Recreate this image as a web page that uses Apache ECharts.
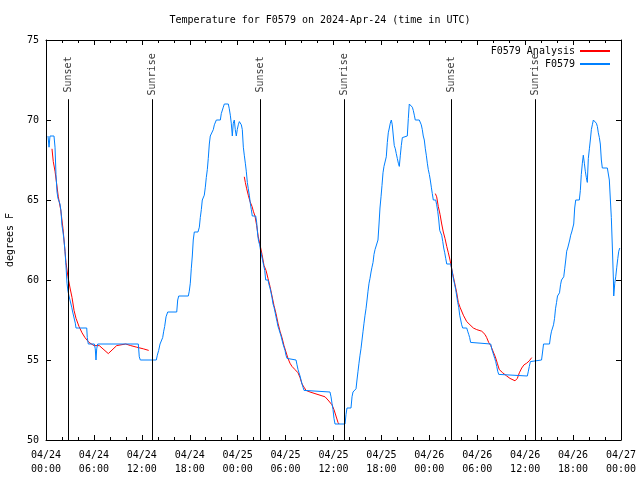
<!DOCTYPE html>
<html><head><meta charset="utf-8">
<script src="https://cdn.jsdelivr.net/npm/echarts@6/dist/echarts.min.js"></script>
<style>html,body{margin:0;padding:0;background:#fff}#c{width:640px;height:480px}</style>
</head><body><div id="c"></div>
<script>
// hours since 2024-04-24 00:00 UTC
const dateLabels = ['04/24','04/25','04/26','04/27'];
const yTicks = [50,55,60,65,70,75];

const obsHours = [0.25,0.38,0.50,1.00,1.13,1.25,1.38,1.50,1.75,1.88,2.00,2.13,2.25,2.38,2.50,2.63,2.75,2.88,3.13,3.22,3.34,3.54,3.67,3.76,5.10,5.17,5.30,6.05,6.17,6.26,6.35,6.47,11.56,11.68,11.81,13.81,13.94,14.11,14.28,14.49,14.61,14.74,14.86,15.03,15.24,16.37,16.49,16.62,17.82,17.94,18.07,18.19,18.32,18.44,18.57,19.03,19.20,19.32,19.45,19.57,19.82,19.95,20.07,20.20,20.32,20.45,20.57,20.82,20.95,21.08,21.33,21.83,21.95,22.20,22.33,22.83,22.95,23.08,23.20,23.33,23.45,23.58,23.70,23.83,23.95,24.08,24.21,24.33,24.46,24.58,24.71,24.83,24.96,25.08,25.21,25.33,25.46,25.58,25.71,25.83,26.26,26.38,26.51,26.63,26.76,26.88,27.01,27.14,27.26,27.39,27.51,27.80,27.93,28.05,28.18,28.30,28.43,28.55,28.68,28.80,28.93,29.05,29.18,29.30,29.43,29.55,29.68,29.80,29.93,30.05,30.18,30.30,31.31,31.43,31.56,31.68,31.81,31.93,32.06,32.18,32.31,32.56,35.56,35.69,35.81,35.94,36.06,36.19,37.44,37.57,37.69,38.19,38.32,38.44,38.69,38.82,38.94,39.07,39.19,39.32,39.44,39.57,39.70,39.82,39.95,40.07,40.20,40.32,40.45,40.57,40.70,40.82,40.95,41.07,41.20,41.45,41.57,41.70,41.82,41.95,42.07,42.20,42.32,42.49,42.61,42.74,42.86,42.99,43.11,43.24,43.36,43.49,43.61,43.74,43.86,43.99,44.12,44.24,44.37,44.49,44.62,44.74,45.24,45.37,45.49,45.74,45.87,45.99,46.12,46.24,46.74,46.87,46.99,47.12,47.24,47.37,47.50,47.62,47.75,47.87,48.00,48.12,48.25,48.37,48.50,48.80,48.92,49.05,49.18,49.30,49.43,49.55,49.68,49.80,49.93,50.05,50.18,50.68,50.80,50.93,51.05,51.18,51.30,51.43,51.55,51.68,51.80,51.93,52.05,52.18,52.68,52.80,52.93,53.05,53.17,53.30,55.69,55.81,55.94,56.06,56.19,56.31,56.44,56.56,56.69,56.76,60.27,60.40,60.52,60.65,60.77,62.05,62.18,62.30,63.05,63.18,63.30,63.43,63.55,63.68,63.80,63.93,64.05,64.30,64.43,64.55,64.70,64.83,64.95,65.08,65.20,65.33,65.45,65.58,65.70,65.83,65.99,66.08,66.20,66.33,66.78,66.91,67.03,67.16,67.28,67.41,67.53,67.66,67.78,67.91,68.04,68.16,68.29,68.41,68.54,68.78,68.91,69.04,69.16,69.29,69.41,69.54,69.66,70.29,70.42,70.54,70.67,70.79,70.92,71.05,71.09,71.22,71.34,71.47,71.60,71.72,71.85];
const obsTemps = [69.0,68.3,69.0,69.0,68.3,66.6,65.5,65.1,64.75,64.3,63.4,63.0,62.5,61.8,60.9,59.8,59.3,59.0,59.0,58.3,58.0,58.0,57.3,57.0,57.0,56.4,56.0,56.0,55.7,55.0,55.7,56.0,56.0,55.2,55.0,55.0,55.3,55.6,56.0,56.0,56.4,56.8,57.1,57.7,58.0,58.0,58.75,59.0,59.0,59.3,59.8,60.7,61.5,62.5,63.0,63.0,63.3,63.9,64.4,65.0,65.3,65.8,66.4,66.9,67.6,68.5,69.0,69.0,69.4,69.7,70.0,70.0,70.4,70.8,71.0,71.0,70.7,70.3,69.8,69.0,69.8,70.0,69.4,69.0,69.4,69.7,69.9,70.0,69.7,69.4,68.3,67.8,67.3,66.8,66.1,65.7,65.3,64.8,64.4,64.0,64.0,63.6,62.8,62.4,62.2,61.8,61.5,61.2,60.9,60.6,60.0,60.0,59.7,59.5,59.2,58.9,58.5,58.3,58.0,57.7,57.4,57.1,56.9,56.8,56.5,56.4,56.0,55.8,55.6,55.3,55.1,55.0,55.0,54.7,54.4,54.2,54.0,53.75,53.5,53.3,53.1,53.0,53.0,52.7,52.3,51.9,51.35,51.0,51.0,51.6,52.0,52.0,52.7,53.0,53.0,53.2,53.75,54.3,54.8,55.3,55.7,56.25,56.8,57.3,57.8,58.2,58.75,59.3,59.8,60.1,60.5,60.8,61.1,61.6,61.9,61.9,62.5,63.5,64.5,65.2,65.9,66.7,67.1,67.1,67.7,68.6,69.2,69.5,69.8,70.0,69.7,69.0,68.4,68.2,67.9,67.6,67.3,67.1,67.8,68.4,68.9,69.0,69.0,70.1,71.0,71.0,70.8,70.6,70.3,70.0,70.0,69.9,69.7,69.4,69.0,68.75,68.2,67.8,67.3,66.9,66.6,66.25,65.8,65.4,65.0,65.0,64.7,64.3,63.75,63.1,63.0,62.8,62.4,62.0,61.7,61.35,61.0,61.0,60.7,60.3,60.0,59.7,59.4,59.0,58.6,58.3,57.8,57.5,57.2,57.0,57.0,56.8,56.6,56.4,56.1,56.0,56.0,55.7,55.5,55.3,55.1,54.9,54.6,54.3,54.1,54.0,54.0,54.3,54.6,54.9,55.0,55.0,55.5,56.0,56.0,56.5,56.8,57.0,57.2,57.6,58.2,58.6,59.0,59.2,59.7,60.0,60.0,60.2,60.7,61.25,61.8,62.0,62.1,62.5,62.8,63.0,63.0,63.5,64.5,65.0,65.0,65.6,66.6,67.3,67.8,67.3,66.8,66.4,66.1,67.6,68.2,68.75,69.4,69.7,70.0,70.0,69.8,69.6,69.2,68.9,68.5,67.5,67.0,67.0,66.9,66.25,65.0,63.9,62.0,60.0,59.0,59.8,60.2,60.8,61.35,61.8,62.0];

const anaHoursA = [0.75,0.91,1.13,1.34,1.54,1.84,2.13,2.38,2.50,2.75,3.01,3.26,3.51,3.76,4.13,4.51,4.88,5.38,6.01,6.67,7.80,8.85,9.98,10.61,11.36,12.18,12.86];
const anaTempsA = [68.2,67.4,66.8,66.0,65.2,64.4,63.2,61.8,61.1,60.2,59.5,58.9,58.1,57.6,57.1,56.7,56.4,56.1,55.9,55.9,55.4,55.9,56.0,55.9,55.8,55.7,55.6];
const anaHoursB = [24.83,24.96,25.13,25.33,25.55,25.80,25.96,26.17,26.38,26.58,26.80,27.05,27.30,27.55,27.80,28.05,28.30,28.55,28.80,29.05,29.30,29.55,29.80,30.05,30.30,30.55,30.80,31.18,31.56,31.81,32.06,32.31,32.56,33.06,33.68,34.31,34.94,35.31,35.56,35.81,36.06,36.31,36.56,36.69];
const anaTempsB = [66.45,66.1,65.7,65.3,64.9,64.6,64.3,64.0,63.4,62.7,62.2,61.6,60.9,60.6,60.1,59.6,59.0,58.4,57.9,57.3,56.8,56.4,55.9,55.5,55.1,54.8,54.6,54.4,54.2,53.9,53.5,53.3,53.1,53.0,52.9,52.8,52.7,52.5,52.4,52.2,51.9,51.5,51.1,51.0];
const anaHoursC = [48.75,48.92,49.12,49.34,49.55,49.75,49.96,50.18,50.38,50.59,50.80,51.01,51.22,51.43,51.63,51.84,52.26,52.68,53.09,53.51,53.93,54.56,54.97,55.18,55.43,55.69,56.01,56.26,56.51,56.76,57.19,57.69,58.10,58.73,59.02,59.27,59.57,59.86,60.19,60.52,60.82];
const anaTempsC = [65.4,65.2,64.6,64.1,63.5,63.0,62.6,62.1,61.7,61.25,60.7,60.2,59.7,59.2,58.6,58.3,57.8,57.4,57.2,57.0,56.9,56.8,56.6,56.4,56.1,55.9,55.5,55.2,54.8,54.4,54.2,54.0,53.85,53.7,53.85,54.2,54.5,54.7,54.8,54.95,55.15];

const sunHours = [2.80,13.30,26.80,37.35,50.75,61.27];
const sunNames = ['Sunset','Sunrise','Sunset','Sunrise','Sunset','Sunrise'];
const sunLineTop = 71.3;
const sunLabelAt = 72.85;

const zip = (a,b) => a.map((v,i)=>[v,b[i]]);
const FONT = 'DejaVu Sans Mono';
const chart = echarts.init(document.getElementById('c'), null, {renderer:'canvas'});
const pad = n => (n<10?'0':'')+n;
const axisCommon = {
  type:'value', min:0, max:72, interval:6,
  axisLine:{show:true, onZero:false, lineStyle:{color:'#000', width:1}},
  axisTick:{show:true, inside:true, length:5, lineStyle:{color:'#000'}},
  minorTick:{show:true, splitNumber:3, length:3, lineStyle:{color:'#000'}},
  splitLine:{show:false}
};
const yCommon = {
  type:'value', min:50, max:75, interval:5,
  axisLine:{show:true, onZero:false, lineStyle:{color:'#000', width:1}},
  axisTick:{show:true, inside:true, length:5, lineStyle:{color:'#000'}},
  splitLine:{show:false}
};
const lineSeries = (name, data, color) => ({
  type:'line', name, data, showSymbol:false, symbol:'none', smooth:false,
  lineStyle:{color, width:1}, itemStyle:{color}, xAxisIndex:0, yAxisIndex:0,
  silent:true, z:3
});
chart.setOption({
  animation:false,
  backgroundColor:'#fff',
  title:{text:'Temperature for F0579 on 2024-Apr-24 (time in UTC)', left:'center', top:10,
    textStyle:{fontFamily:FONT, fontSize:10, fontWeight:'normal', color:'#000'}},
  grid:{left:46, top:40, right:19, bottom:40, containLabel:false, outerBoundsMode:'none'},
  legend:{orient:'vertical', right:30, top:45, align:'right', itemWidth:30, itemHeight:2, itemGap:1,
    padding:0, icon:'rect', data:['F0579 Analysis','F0579'],
    textStyle:{fontFamily:FONT, fontSize:10, color:'#000', lineHeight:12, padding:[0,0,0,0]}},
  xAxis:[
    Object.assign({}, axisCommon, {position:'bottom',
      axisLabel:{show:true, margin:8, fontFamily:FONT, fontSize:10, color:'#000', lineHeight:14,
        formatter:v => dateLabels[Math.floor(v/24)] + '\n' + pad(v%24) + ':00'}}),
    Object.assign({}, axisCommon, {position:'top', axisLabel:{show:false}})
  ],
  yAxis:[
    Object.assign({}, yCommon, {position:'left', name:'degrees F', nameLocation:'middle', nameGap:31,
      nameRotate:90, nameTextStyle:{fontFamily:FONT, fontSize:10, color:'#000'},
      axisLabel:{show:true, margin:7, fontFamily:FONT, fontSize:10, color:'#000'}}),
    Object.assign({}, yCommon, {position:'right', axisLabel:{show:false}})
  ],
  series:[
    {type:'scatter', name:'sun', data: sunHours.map((h,i)=>({value:[h,sunLabelAt], name:sunNames[i]})),
      symbolSize:0, silent:true, z:2,
      label:{show:true, position:'inside', rotate:90, formatter:p=>p.name, fontFamily:FONT, fontSize:10, color:'#000'},
      markLine:{silent:true, symbol:['none','none'], label:{show:false},
        lineStyle:{color:'#000', width:1, type:'solid'},
        data: sunHours.map(h=>[{coord:[h,50]},{coord:[h,sunLineTop]}])}},
    lineSeries('F0579 Analysis', zip(anaHoursA, anaTempsA), '#ff0000'),
    lineSeries('F0579 Analysis', zip(anaHoursB, anaTempsB), '#ff0000'),
    lineSeries('F0579 Analysis', zip(anaHoursC, anaTempsC), '#ff0000'),
    lineSeries('F0579', zip(obsHours, obsTemps), '#0080ff')
  ]
});
</script></body></html>
